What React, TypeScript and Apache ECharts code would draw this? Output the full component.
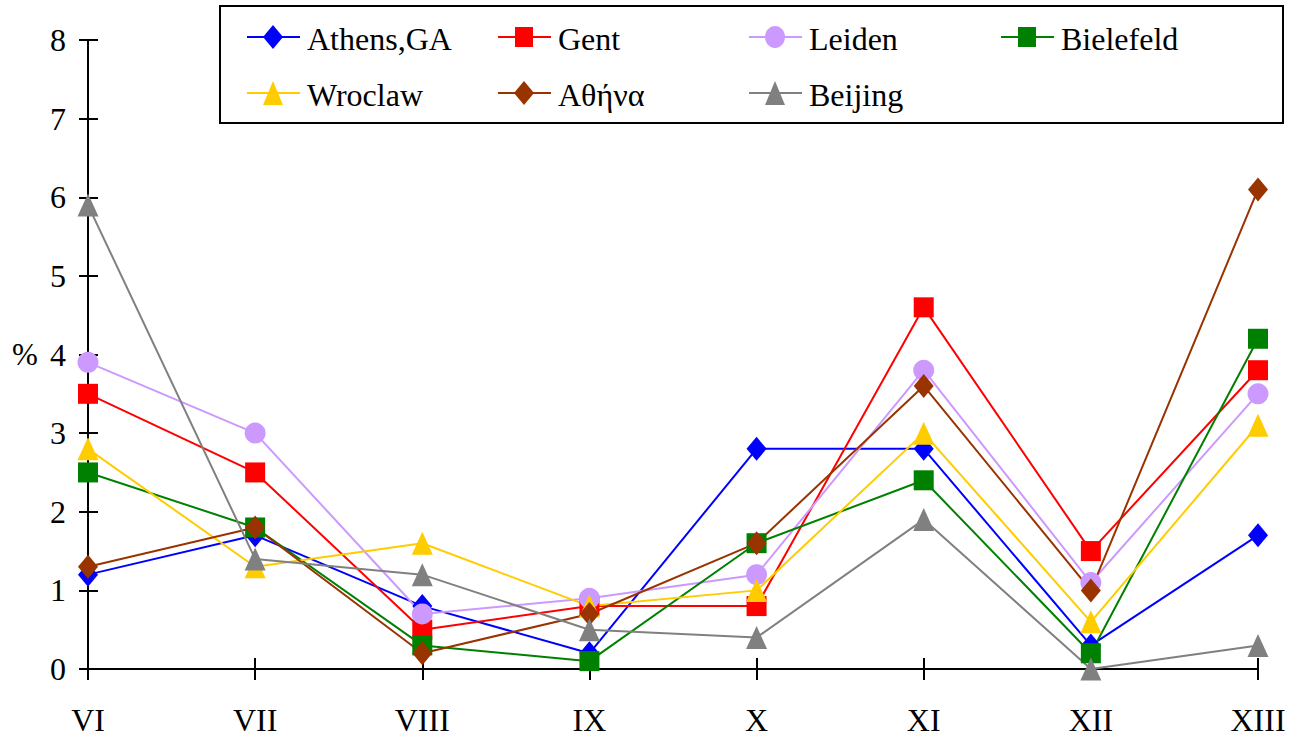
import React, { useEffect, useRef } from "react";
import * as echarts from "echarts";

const categories = ["VI", "VII", "VIII", "IX", "X", "XI", "XII", "XIII"];
const athensGA = [1.2, 1.7, 0.8, 0.2, 2.8, 2.8, 0.3, 1.7];
const gent = [3.5, 2.5, 0.5, 0.8, 0.8, 4.6, 1.5, 3.8];
const leiden = [3.9, 3.0, 0.7, 0.9, 1.2, 3.8, 1.1, 3.5];
const bielefeld = [2.5, 1.8, 0.3, 0.1, 1.6, 2.4, 0.2, 4.2];
const wroclaw = [2.8, 1.3, 1.6, 0.8, 1.0, 3.0, 0.6, 3.1];
const athina = [1.3, 1.8, 0.2, 0.7, 1.6, 3.6, 1.0, 6.1];
const beijing = [5.9, 1.4, 1.2, 0.5, 0.4, 1.9, 0.0, 0.3];

const seriesDefs = [
  { name: "Athens,GA", data: athensGA, color: "#0000FF", symbol: "diamond", size: [20, 24] },
  { name: "Gent", data: gent, color: "#FF0000", symbol: "rect", size: [20, 20] },
  { name: "Leiden", data: leiden, color: "#CC99FF", symbol: "circle", size: [21, 21] },
  { name: "Bielefeld", data: bielefeld, color: "#008000", symbol: "rect", size: [20, 20] },
  { name: "Wroclaw", data: wroclaw, color: "#FFCC00", symbol: "triangle", size: [21, 23] },
  { name: "Αθήνα", data: athina, color: "#993300", symbol: "diamond", size: [20, 24] },
  { name: "Beijing", data: beijing, color: "#808080", symbol: "triangle", size: [21, 23] },
];

const FONT = "Liberation Serif";
const LEGEND_FONT = "32px 'Liberation Serif', 'Times New Roman', serif";

function legendMarker(sym: string, cx: number, cy: number, color: string) {
  const style = { fill: color, stroke: "none" };
  if (sym === "diamond")
    return { type: "polygon", shape: { points: [[cx, cy - 12], [cx + 10, cy], [cx, cy + 12], [cx - 10, cy]] }, style };
  if (sym === "rect") return { type: "rect", shape: { x: cx - 9, y: cy - 10, width: 18, height: 20 }, style };
  if (sym === "circle") return { type: "ellipse", shape: { cx, cy, rx: 10, ry: 11 }, style };
  return { type: "polygon", shape: { points: [[cx, cy - 12], [cx + 10, cy + 12], [cx - 10, cy + 12]] }, style };
}

function buildLegend() {
  const colX = [247, 498, 749, 1001];
  const rowY = [37, 93];
  const els: any[] = [];
  seriesDefs.forEach((s, i) => {
    const x = colX[i % 4];
    const y = rowY[Math.floor(i / 4)];
    els.push({
      type: "line",
      shape: { x1: x, y1: y, x2: x + 53, y2: y },
      style: { stroke: s.color, lineWidth: 2 },
    });
    els.push(legendMarker(s.symbol, x + 26, y, s.color));
    els.push({
      type: "text",
      x: x + 60,
      y: y + 2,
      style: {
        text: s.name,
        font: LEGEND_FONT,
        fill: "#000",
        verticalAlign: "middle",
        align: "left",
      },
    });
  });
  return els;
}

export default function App() {
  const ref = useRef<HTMLDivElement>(null);
  useEffect(() => {
    if (!ref.current) return;
    const chart = echarts.init(ref.current, undefined, { renderer: "svg" });
    chart.setOption({
      animation: false,
      textStyle: { fontFamily: FONT },
      grid: { left: 88, right: 46, top: 40, bottom: 73 },
      legend: { show: false },
      graphic: [
        {
          type: "rect",
          shape: { x: 220, y: 6, width: 1063, height: 117 },
          style: { fill: "none", stroke: "#000", lineWidth: 2 },
          z: 0,
        },
        ...buildLegend(),
        {
          type: "text",
          x: 12,
          y: 339,
          style: { text: "%", font: "31px 'Liberation Serif', 'Times New Roman', serif", fill: "#000" },
        },
      ],
      xAxis: [
        {
          type: "category",
          data: categories,
          boundaryGap: false,
          axisLine: { lineStyle: { color: "#000", width: 2 } },
          axisTick: { show: true, length: 11, lineStyle: { color: "#000", width: 2 } },
          axisLabel: { color: "#000", fontSize: 32, fontFamily: FONT, margin: 35 },
          splitLine: { show: false },
        },
        {
          type: "category",
          data: categories,
          boundaryGap: false,
          position: "bottom",
          axisLine: { show: false },
          axisTick: { show: true, inside: true, length: 11, lineStyle: { color: "#000", width: 2 } },
          axisLabel: { show: false },
          splitLine: { show: false },
        },
      ],
      yAxis: [
        {
          type: "value",
          min: 0,
          max: 8,
          interval: 1,
          axisLine: { show: true, lineStyle: { color: "#000", width: 2 } },
          axisTick: { show: true, length: 9, lineStyle: { color: "#000", width: 2 } },
          axisLabel: { color: "#000", fontSize: 32, fontFamily: FONT, margin: 22 },
          splitLine: { show: false },
        },
        {
          type: "value",
          min: 0,
          max: 8,
          interval: 1,
          position: "left",
          offset: 0,
          axisLine: { show: false },
          axisTick: { show: true, inside: true, length: 10, lineStyle: { color: "#000", width: 2 } },
          axisLabel: { show: false },
          splitLine: { show: false },
        },
      ],
      series: seriesDefs.map((s) => ({
        name: s.name,
        type: "line",
        data: s.data,
        xAxisIndex: 0,
        yAxisIndex: 0,
        symbol: s.symbol,
        symbolSize: s.size,
        showAllSymbol: true,
        color: s.color,
        lineStyle: { color: s.color, width: 2 },
        itemStyle: { color: s.color, borderWidth: 0 },
        emphasis: { disabled: true },
      })),
    });
    return () => chart.dispose();
  }, []);
  return (
    <div
      ref={ref}
      style={{ position: "fixed", left: 0, top: 0, width: 1304, height: 742, background: "#fff" }}
    />
  );
}
